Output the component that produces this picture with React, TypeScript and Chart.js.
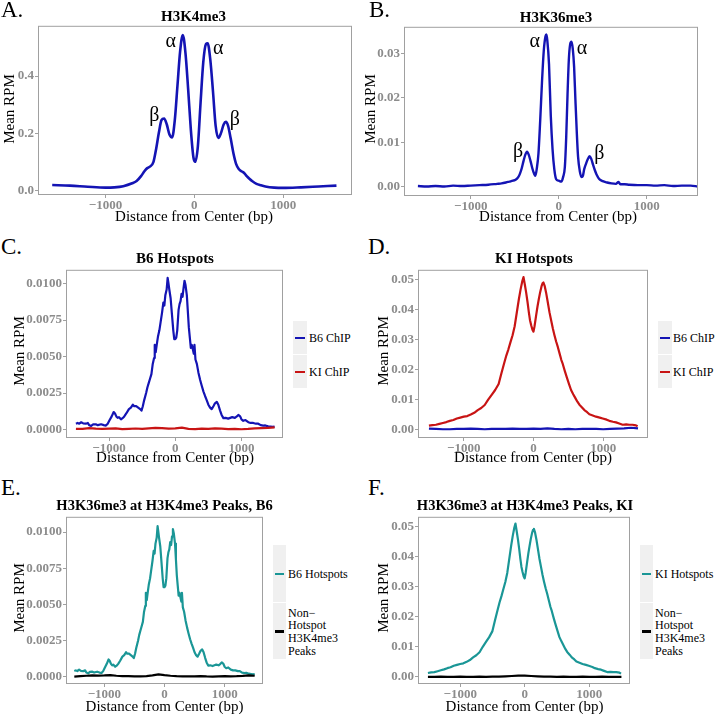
import React, { useEffect, useRef } from "react";
import { Chart, registerables } from "chart.js";
Chart.register(...registerables);

const FONT = "'Liberation Serif', 'Times New Roman', serif";
const BLUE = "#1414b4";
const RED = "#c81414";
const TEAL = "#1a9696";
const BLACK = "#000000";
const TICK_COLOR = "#8c8c8c";
const FRAME_COLOR = "#a0a0a0";

// ---------- Panel A: H3K4me3 ----------
const aX = [-1600, -1400, -1200, -1000, -900, -800, -700, -650, -600, -560, -530, -500, -460, -430, -400, -370, -340, -310, -280, -250, -220, -190, -160, -130, -100, -70, -40, -10, 10, 40, 70, 100, 130, 150, 180, 210, 240, 270, 300, 330, 355, 380, 410, 440, 470, 500, 530, 560, 590, 620, 650, 700, 750, 800, 900, 1000, 1200, 1400, 1600];
const aY = [0.02, 0.018, 0.014, 0.011, 0.012, 0.016, 0.026, 0.034, 0.051, 0.069, 0.079, 0.084, 0.101, 0.146, 0.201, 0.246, 0.252, 0.231, 0.196, 0.186, 0.246, 0.366, 0.486, 0.543, 0.481, 0.356, 0.216, 0.116, 0.101, 0.156, 0.306, 0.446, 0.511, 0.514, 0.456, 0.346, 0.226, 0.184, 0.201, 0.231, 0.24, 0.226, 0.181, 0.131, 0.094, 0.076, 0.068, 0.062, 0.051, 0.042, 0.034, 0.024, 0.019, 0.015, 0.011, 0.01, 0.012, 0.015, 0.018];
const aYTicks = [0, 0.2, 0.4];
const aYTickLabels = ["0.0", "0.2", "0.4"];

// ---------- Panel B: H3K36me3 ----------
const bX = [-1600, -1500, -1400, -1300, -1200, -1100, -1000, -900, -800, -700, -650, -600, -560, -520, -490, -460, -440, -420, -400, -380, -360, -340, -320, -300, -280, -265, -250, -230, -210, -190, -170, -150, -140, -130, -110, -90, -70, -50, -30, 0, 30, 50, 70, 85, 100, 115, 130, 145, 160, 175, 190, 205, 220, 240, 260, 275, 290, 310, 330, 350, 370, 390, 410, 430, 460, 500, 550, 600, 650, 680, 700, 750, 800, 900, 1000, 1100, 1200, 1300, 1400, 1500, 1580];
const bY = [0.0002, 0.0001, 0.0002, 0.0001, 0.0003, 0.0002, 0.0003, 0.0004, 0.0005, 0.0007, 0.0008, 0.001, 0.0012, 0.0014, 0.0016, 0.0022, 0.003, 0.0042, 0.0058, 0.0072, 0.0079, 0.0072, 0.0058, 0.0042, 0.003, 0.0025, 0.004, 0.0075, 0.015, 0.0235, 0.0305, 0.0338, 0.0342, 0.033, 0.0275, 0.016, 0.0085, 0.004, 0.0018, 0.0014, 0.0012, 0.0022, 0.0045, 0.011, 0.0205, 0.0285, 0.032, 0.0326, 0.031, 0.027, 0.0195, 0.0125, 0.0068, 0.0035, 0.0022, 0.0025, 0.004, 0.0052, 0.0062, 0.0069, 0.0063, 0.005, 0.0038, 0.0028, 0.0018, 0.0013, 0.001, 0.0008, 0.0007, 0.0011, 0.0006, 0.0006, 0.0005, 0.0004, 0.0004, 0.0003, 0.0004, 0.0002, 0.0003, 0.0003, 0.0001];
const bYTicks = [0, 0.01, 0.02, 0.03];
const bYTickLabels = ["0.00", "0.01", "0.02", "0.03"];

// ---------- Panel C / E: B6 hotspots ----------
const cX = [-1500, -1475, -1450, -1420, -1390, -1350, -1320, -1300, -1270, -1240, -1200, -1170, -1120, -1080, -1047, -1020, -997, -960, -930, -910, -890, -870, -850, -820, -790, -770, -740, -700, -670, -640, -620, -590, -560, -530, -510, -490, -470, -440, -420, -400, -380, -360, -340, -320, -310, -295, -280, -260, -240, -220, -200, -180, -165, -150, -130, -115, -105, -90, -70, -50, -30, -15, 0, 15, 30, 50, 65, 80, 95, 110, 125, 140, 155, 175, 190, 205, 220, 235, 250, 265, 280, 290, 305, 326, 350, 376, 400, 426, 450, 476, 500, 526, 550, 576, 600, 627, 650, 677, 700, 727, 760, 800, 830, 860, 900, 930, 952, 980, 1000, 1027, 1060, 1103, 1140, 1178, 1220, 1253, 1290, 1328, 1360, 1403, 1440, 1470, 1500];
const cB6ChIP = [0.0004, 0.00045, 0.0004, 0.0005, 0.00042, 0.0004, 0.00045, 0.0003, 0.00025, 0.00035, 0.00036, 0.0003, 0.00036, 0.0003, 0.00027, 0.0004, 0.0006, 0.0009, 0.0012, 0.0011, 0.0009, 0.0008, 0.00085, 0.0007, 0.0008, 0.0009, 0.0011, 0.0014, 0.0015, 0.0017, 0.0016, 0.0016, 0.0015, 0.0014, 0.0013, 0.0016, 0.002, 0.0025, 0.0029, 0.0032, 0.0035, 0.0038, 0.0045, 0.0049, 0.0058, 0.0053, 0.0058, 0.0064, 0.0068, 0.0074, 0.008, 0.0087, 0.0085, 0.0092, 0.0096, 0.0104, 0.0101, 0.0096, 0.009, 0.0079, 0.0068, 0.0062, 0.0062, 0.0063, 0.0068, 0.0082, 0.0086, 0.0088, 0.0093, 0.0091, 0.0097, 0.0102, 0.0099, 0.0092, 0.0081, 0.007, 0.0063, 0.0056, 0.0058, 0.0055, 0.0052, 0.0058, 0.0048, 0.0045, 0.0039, 0.0034, 0.003, 0.0026, 0.0023, 0.002, 0.0017, 0.0015, 0.0014, 0.0016, 0.0018, 0.0019, 0.0017, 0.0013, 0.001, 0.00078, 0.0008, 0.00075, 0.0008, 0.00085, 0.0008, 0.0009, 0.001, 0.0009, 0.0007, 0.0006, 0.00065, 0.0005, 0.00045, 0.00045, 0.0004, 0.0004, 0.0003, 0.00027, 0.00028, 0.00022, 0.0002, 0.00018, 0.0002];

const gridX = [-1500, -1400, -1300, -1200, -1100, -1000, -900, -800, -700, -600, -500, -400, -300, -200, -100, 0, 100, 200, 300, 400, 500, 600, 700, 800, 900, 1000, 1100, 1200, 1300, 1400, 1500];
const cKIChIP = [0.00005, 0.00004, 0.0001, 0.00006, 0.00004, 0.00006, 0.00008, 0.00003, 0.00005, 0.00007, 0.00004, 0.00008, 0.00012, 0.0001, 0.00006, 0.00008, 0.00013, 0.00005, 0.00003, 0.00006, 0.00004, 0.00008, 0.00006, 0.00003, 0.00005, 0.00002, 0.00004, 0.00008, 0.0001, 0.00012, 0.00015];
const cYTicks = [0, 0.0025, 0.005, 0.0075, 0.01];
const cYTickLabels = ["0.0000", "0.0025", "0.0050", "0.0075", "0.0100"];

// ---------- Panel D / F: KI hotspots ----------
const dX = [-1500, -1450, -1400, -1350, -1300, -1250, -1200, -1150, -1100, -1050, -1000, -950, -900, -850, -800, -750, -700, -650, -600, -550, -500, -460, -420, -390, -360, -330, -300, -270, -240, -210, -185, -160, -143, -125, -105, -85, -67, -50, -33, -15, 0, 15, 38, 57, 76, 95, 115, 130, 143, 160, 181, 205, 229, 253, 277, 300, 325, 350, 372, 400, 420, 450, 477, 510, 539, 570, 601, 630, 659, 700, 730, 770, 802, 850, 897, 950, 993, 1050, 1088, 1140, 1184, 1230, 1279, 1330, 1375, 1420, 1446, 1470, 1494];
const dKIChIP = [0.0013, 0.0015, 0.0016, 0.0019, 0.0022, 0.0025, 0.0029, 0.0032, 0.0037, 0.004, 0.0043, 0.0045, 0.005, 0.0056, 0.0065, 0.0072, 0.0082, 0.01, 0.0116, 0.0132, 0.0152, 0.0188, 0.0222, 0.0247, 0.0268, 0.0292, 0.0315, 0.0345, 0.039, 0.0435, 0.0468, 0.0496, 0.0509, 0.0485, 0.0457, 0.0425, 0.0392, 0.0365, 0.0348, 0.0333, 0.0327, 0.0345, 0.0381, 0.041, 0.0435, 0.0458, 0.0478, 0.0488, 0.0491, 0.048, 0.0457, 0.0425, 0.0392, 0.0365, 0.0338, 0.0316, 0.0294, 0.0275, 0.0256, 0.0232, 0.0219, 0.0195, 0.0175, 0.0152, 0.0132, 0.0118, 0.0105, 0.0093, 0.0083, 0.0073, 0.0065, 0.0058, 0.0051, 0.0047, 0.0043, 0.004, 0.0037, 0.0033, 0.0029, 0.0026, 0.0024, 0.002, 0.0016, 0.0017, 0.0016, 0.0016, 0.0015, 0.0014, 0.0011];
const dB6ChIP = [0.0003, 0.0002, 0.0001, 0.0001, 0.0002, 0.0002, 0.0003, 0.0002, 0.0001, 0.0002, 0.0002, 0.0002, 0.0003, 0.0002, 0.0002, 0.0003, 0.0002, 0.0004, 0.0002, 0.0001, 0.0002, 0.0001, 0.0002, 0.0002, 0.0002, 0.0001, 0.0002, 0.0003, 0.0004, 0.0006, 0.0004];
const dYTicks = [0, 0.01, 0.02, 0.03, 0.04, 0.05];
const dYTickLabels = ["0.00", "0.01", "0.02", "0.03", "0.04", "0.05"];

// ---------- Panel E / F non-hotspot peaks ----------
const eNonHotspot = [0.00002, 0.00005, 0.00008, 0.0001, 0.00009, 0.0001, 0.00012, 0.00008, 0.00005, 0.00006, 0.00004, 0.00003, 0.00006, 0.0001, 0.00017, 0.00012, 0.00008, 0.00005, 0.00004, 0.00003, 0.00004, 0.00005, 0.00003, 0.00002, 0.00004, 0.00005, 0.00004, 0.00005, 0.00007, 0.0001, 0.00008];
const fNonHotspot = [0.0, 0.0, 0.0001, 0.0, 0.0, 0.0001, 0.0, 0.0, 0.0001, 0.0, 0.0001, 0.0001, 0.0002, 0.0003, 0.0004, 0.0004, 0.0003, 0.0002, 0.0001, 0.0001, 0.0, 0.0001, 0.0, 0.0, 0.0001, 0.0, 0.0, 0.0001, 0.0, 0.0, 0.0];

const xTicks = [-1000, 0, 1000];
const xTickLabels = ["\u22121000", "0", "1000"];

type Series = { x: number[]; y: number[]; color: string; width: number; smooth?: boolean };
type Note = { x: number; y: number; text: string };
interface PanelSpec {
  plot: [number, number, number, number];
  xRange: [number, number];
  yRange: [number, number];
  yTicks: number[];
  yTickLabels: string[];
  series: Series[];
  notes?: Note[];
}

const panels: PanelSpec[] = [
  {
    plot: [38, 21, 352, 195],
    xRange: [-1760, 1775],
    yRange: [-0.0147, 0.575],
    yTicks: aYTicks, yTickLabels: aYTickLabels,
    series: [{ x: aX, y: aY, color: BLUE, width: 2.6, smooth: true }],
    notes: [
      { x: -266, y: 0.52, text: "\u03b1" },
      { x: 270, y: 0.494, text: "\u03b1" },
      { x: -449, y: 0.26, text: "\u03b2" },
      { x: 457, y: 0.249, text: "\u03b2" },
    ],
  },
  {
    plot: [404, 22, 698, 196],
    xRange: [-1758, 1583],
    yRange: [-0.00203, 0.03594],
    yTicks: bYTicks, yTickLabels: bYTickLabels,
    series: [{ x: bX, y: bY, color: BLUE, width: 2.4, smooth: true }],
    notes: [
      { x: -273, y: 0.0326, text: "\u03b1" },
      { x: 265, y: 0.0311, text: "\u03b1" },
      { x: -462, y: 0.00785, text: "\u03b2" },
      { x: 461, y: 0.0074, text: "\u03b2" },
    ],
  },
  {
    plot: [66, 265, 283, 438],
    xRange: [-1650, 1627],
    yRange: [-0.00058, 0.01095],
    yTicks: cYTicks, yTickLabels: cYTickLabels,
    series: [
      { x: gridX, y: cKIChIP, color: RED, width: 2.2 },
      { x: cX, y: cB6ChIP, color: BLUE, width: 2.2 },
    ],
  },
  {
    plot: [418, 265, 648, 438],
    xRange: [-1657, 1643],
    yRange: [-0.00282, 0.05334],
    yTicks: dYTicks, yTickLabels: dYTickLabels,
    series: [
      { x: dX, y: dKIChIP, color: RED, width: 2.2 },
      { x: gridX, y: dB6ChIP, color: BLUE, width: 2.2 },
    ],
  },
  {
    plot: [66, 512, 263, 684],
    xRange: [-1638, 1638],
    yRange: [-0.00049, 0.01105],
    yTicks: cYTicks, yTickLabels: cYTickLabels,
    series: [
      { x: gridX, y: eNonHotspot, color: BLACK, width: 2.2 },
      { x: cX, y: cB6ChIP, color: TEAL, width: 2.2 },
    ],
  },
  {
    plot: [418, 512, 630, 684],
    xRange: [-1654, 1633],
    yRange: [-0.00235, 0.05313],
    yTicks: dYTicks, yTickLabels: dYTickLabels,
    series: [
      { x: gridX, y: fNonHotspot, color: BLACK, width: 2.2 },
      { x: dX, y: dKIChIP, color: TEAL, width: 2.2 },
    ],
  },
];

function LineChart({ spec }: { spec: PanelSpec }) {
  const ref = useRef<HTMLCanvasElement>(null);
  const [L, T, R, B] = spec.plot;
  const cl = Math.max(0, L - 50);
  const ct = T - 4;
  const cw = R + 4 - cl;
  const ch = B + 18 - ct;
  useEffect(() => {
    const frame = {
      id: "frame",
      afterDraw(chart: any) {
        const { left, top, right, bottom } = chart.chartArea;
        const ctx = chart.ctx;
        ctx.save();
        ctx.strokeStyle = FRAME_COLOR;
        ctx.lineWidth = 1;
        ctx.strokeRect(left + 0.5, top + 0.5, right - left - 1, bottom - top - 1);
        ctx.restore();
      },
    };
    const notes = {
      id: "notes",
      afterDatasetsDraw(chart: any) {
        if (!spec.notes) return;
        const ctx = chart.ctx;
        const xs = chart.scales.x;
        const ys = chart.scales.y;
        ctx.save();
        ctx.fillStyle = "#000";
        ctx.font = `20px ${FONT}`;
        ctx.textAlign = "center";
        ctx.textBaseline = "middle";
        for (const n of spec.notes) {
          ctx.fillText(n.text, xs.getPixelForValue(n.x), ys.getPixelForValue(n.y));
        }
        ctx.restore();
      },
    };
    const tickFont = { family: FONT, size: 13, weight: "bold" as const };
    const chart = new Chart(ref.current!, {
      type: "line",
      data: {
        datasets: spec.series.map((s) => ({
          data: s.x.map((x, i) => ({ x, y: s.y[i] })),
          borderColor: s.color,
          backgroundColor: s.color,
          borderWidth: s.width,
          pointRadius: 0,
          fill: false,
          tension: 0,
          cubicInterpolationMode: s.smooth ? "monotone" : "default",
          borderJoinStyle: "round",
        })),
      } as any,
      options: {
        animation: false,
        responsive: false,
        devicePixelRatio: 1,
        layout: { padding: { top: T - ct, right: 4, bottom: 0, left: 0 } },
        plugins: { legend: { display: false }, tooltip: { enabled: false }, title: { display: false } },
        scales: {
          x: {
            type: "linear",
            min: spec.xRange[0],
            max: spec.xRange[1],
            afterFit: (s: any) => { s.height = 18; },
            afterBuildTicks: (s: any) => { s.ticks = xTicks.map((v) => ({ value: v })); },
            ticks: {
              autoSkip: false,
              maxRotation: 0,
              padding: 0,
              color: TICK_COLOR,
              font: tickFont,
              callback: (v: any) => xTickLabels[xTicks.indexOf(Number(v))],
            },
            grid: { display: true, drawOnChartArea: false, drawTicks: true, tickLength: 3, color: FRAME_COLOR },
            border: { display: false },
          },
          y: {
            type: "linear",
            min: spec.yRange[0],
            max: spec.yRange[1],
            afterFit: (s: any) => { s.width = L - cl; },
            afterBuildTicks: (s: any) => { s.ticks = spec.yTicks.map((v) => ({ value: v })); },
            ticks: {
              autoSkip: false,
              padding: 1,
              color: TICK_COLOR,
              font: tickFont,
              callback: (v: any) => spec.yTickLabels[spec.yTicks.indexOf(Number(v))],
            },
            grid: { display: true, drawOnChartArea: false, drawTicks: true, tickLength: 3, color: FRAME_COLOR },
            border: { display: false },
          },
        },
      } as any,
      plugins: [frame, notes],
    });
    return () => chart.destroy();
  }, []);
  return (
    <canvas
      ref={ref}
      width={cw}
      height={ch}
      style={{ position: "absolute", left: cl, top: ct, width: cw, height: ch }}
    />
  );
}

function Txt(props: { x: number; y: number; text: string; size: number; bold?: boolean; align?: "center" | "left"; rotate?: boolean }) {
  const { x, y, text, size, bold, align = "center", rotate } = props;
  const tx = align === "center" ? "-50%" : "0";
  return (
    <div
      style={{
        position: "absolute",
        left: x,
        top: y,
        transform: `translate(${tx}, -50%)${rotate ? " rotate(-90deg)" : ""}`,
        fontSize: size,
        fontWeight: bold ? "bold" : "normal",
        whiteSpace: "nowrap",
        lineHeight: 1,
        color: "#000",
        fontFamily: FONT,
      }}
    >
      {text}
    </div>
  );
}

type LegendItem = { color: string; lines: string[]; top: number; h: number };
function Legend({ keyX, keyW, textX, items }: { keyX: number; keyW: number; textX: number; items: LegendItem[] }) {
  return (
    <>
      {items.map((it, i) => {
        const cy = it.top + it.h / 2;
        return (
          <React.Fragment key={i}>
            <div style={{ position: "absolute", left: keyX, top: it.top, width: keyW, height: it.h - 1, background: "#f0f0f0" }} />
            <div style={{ position: "absolute", left: keyX + 2, top: cy - 1.25, width: keyW - 4, height: 2.5, background: it.color }} />
            <div
              style={{
                position: "absolute",
                left: textX,
                top: cy,
                transform: "translateY(-50%)",
                fontSize: 12,
                lineHeight: "12.7px",
                whiteSpace: "nowrap",
                fontFamily: FONT,
                color: "#000",
              }}
            >
              {it.lines.map((l, j) => (
                <div key={j}>{l}</div>
              ))}
            </div>
          </React.Fragment>
        );
      })}
    </>
  );
}

export default function App() {
  const xTitle = "Distance from Center (bp)";
  return (
    <div style={{ position: "absolute", left: 0, top: 0, width: 715, height: 714, background: "#fff", overflow: "hidden", fontFamily: FONT }}>
      {panels.map((p, i) => (
        <LineChart key={i} spec={p} />
      ))}
      {/* panel letters */}
      <Txt x={1} y={9} text="A." size={23} align="left" />
      <Txt x={369} y={9} text="B." size={23} align="left" />
      <Txt x={1} y={246} text="C." size={23} align="left" />
      <Txt x={368} y={246} text="D." size={23} align="left" />
      <Txt x={1} y={487} text="E." size={23} align="left" />
      <Txt x={368} y={487} text="F." size={23} align="left" />
      {/* titles */}
      <Txt x={193.5} y={16} text="H3K4me3" size={15} bold />
      <Txt x={556} y={17} text="H3K36me3" size={15} bold />
      <Txt x={175} y={258} text="B6 Hotspots" size={15} bold />
      <Txt x={534} y={258} text="KI Hotspots" size={15} bold />
      <Txt x={164.5} y={505} text="H3K36me3 at H3K4me3 Peaks, B6" size={14.5} bold />
      <Txt x={525} y={505} text="H3K36me3 at H3K4me3 Peaks, KI" size={14.5} bold />
      {/* x axis titles */}
      <Txt x={194} y={216} text={xTitle} size={15} />
      <Txt x={558} y={216} text={xTitle} size={15} />
      <Txt x={175} y={457} text={xTitle} size={15} />
      <Txt x={533} y={457} text={xTitle} size={15} />
      <Txt x={164.5} y={706} text={xTitle} size={15} />
      <Txt x={524.5} y={706} text={xTitle} size={15} />
      {/* y axis titles */}
      <Txt x={9} y={108.5} text="Mean RPM" size={15} rotate />
      <Txt x={370} y={109} text="Mean RPM" size={15} rotate />
      <Txt x={19} y={351} text="Mean RPM" size={15} rotate />
      <Txt x={383} y={351} text="Mean RPM" size={15} rotate />
      <Txt x={18.5} y={598} text="Mean RPM" size={15} rotate />
      <Txt x={383} y={598} text="Mean RPM" size={15} rotate />
      {/* legends */}
      <Legend keyX={293} keyW={14} textX={309} items={[
        { color: BLUE, lines: ["B6 ChIP"], top: 321, h: 34 },
        { color: RED, lines: ["KI ChIP"], top: 355, h: 34 },
      ]} />
      <Legend keyX={658} keyW={14} textX={673} items={[
        { color: BLUE, lines: ["B6 ChIP"], top: 321, h: 34 },
        { color: RED, lines: ["KI ChIP"], top: 355, h: 34 },
      ]} />
      <Legend keyX={273} keyW={13} textX={288} items={[
        { color: TEAL, lines: ["B6 Hotspots"], top: 545, h: 58 },
        { color: BLACK, lines: ["Non\u2212", "Hotspot", "H3K4me3", "Peaks"], top: 603, h: 57 },
      ]} />
      <Legend keyX={640} keyW={13} textX={655} items={[
        { color: TEAL, lines: ["KI Hotspots"], top: 545, h: 58 },
        { color: BLACK, lines: ["Non\u2212", "Hotspot", "H3K4me3", "Peaks"], top: 603, h: 57 },
      ]} />
    </div>
  );
}
